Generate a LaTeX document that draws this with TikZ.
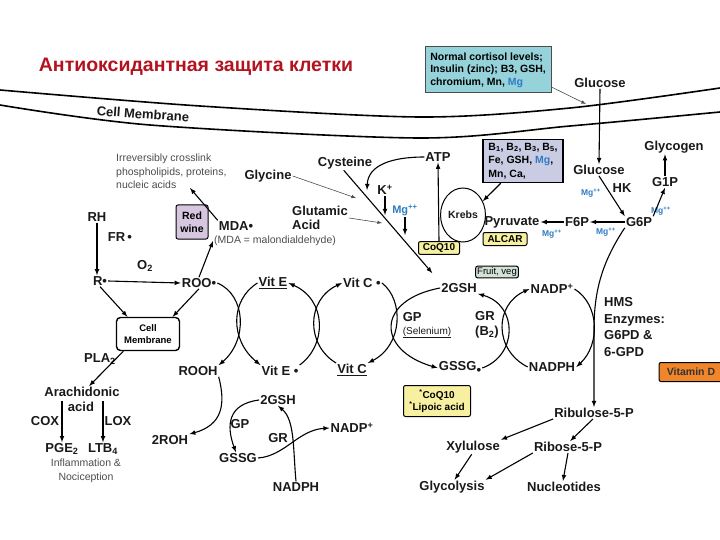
\documentclass[tikz,border=0pt]{standalone}
\usepackage{fontspec}
\setmainfont{Liberation Sans}
\usepackage{tikz}
\usetikzlibrary{arrows,shapes.geometric}

\definecolor{titlered}{HTML}{B3121E}
\definecolor{mgblue}{HTML}{2F7BC4}
\definecolor{cortfill}{HTML}{96D2DA}
\definecolor{bfill}{HTML}{C9CCE2}
\definecolor{winefill}{HTML}{D6C6E0}
\definecolor{yellowfill}{HTML}{F6F0A0}
\definecolor{vegfill}{HTML}{D3E2D6}
\definecolor{vitdfill}{HTML}{F0852A}

\newcommand{\mgpp}{Mg\textsuperscript{++}}

\begin{document}
\begin{tikzpicture}[x=1pt,y=-1pt]

\tikzstyle{lbl}=[font=\bfseries\fontsize{13}{14.5}\selectfont,text=black!90,inner sep=1pt]
\tikzstyle{sml}=[font=\fontsize{10.5}{13.5}\selectfont,text=black!70,inner sep=1pt]
\tikzstyle{mg}=[font=\bfseries\fontsize{8.5}{9}\selectfont,text=mgblue,inner sep=1pt]
\tikzstyle{con}=[-latex,line width=1.1pt]
\tikzstyle{fine}=[-latex,line width=.6pt,black!70]
\tikzstyle{ybox}=[draw,line width=1pt,rounded corners=2pt,fill=yellowfill,font=\bfseries\fontsize{10}{12}\selectfont,inner sep=2pt]
\tikzstyle{mem}=[line width=1.6pt]

\useasboundingbox (0,0) rectangle (720,540);

\draw[mem] plot[smooth] coordinates {(0,90) (200,106) (420,117) (570,108) (720,88)};
\draw[mem] plot[smooth] coordinates {(0,105) (150,125) (420,138) (570,126) (720,112)};

\node[font=\bfseries\fontsize{19.5}{21}\selectfont,text=titlered] (title) at (196,67) {Антиоксидантная защита клетки};
\node[lbl,rotate=-4] (cellmem) at (143,114) {Cell Membrane};

\node[draw=black!70,line width=1pt,fill=cortfill,align=left,font=\bfseries\fontsize{10.5}{12.5}\selectfont,inner sep=3pt,minimum width=126,minimum height=46] (cortbox) at (488,70) {Normal cortisol levels;\\Insulin (zinc); B3, GSH,\\chromium, Mn, {\color{mgblue}Mg}};
\node[lbl] (glucA) at (600,83) {Glucose};
\coordinate (gate) at (586,104);

\node[sml,align=left,anchor=north west] (irrev) at (115,153) {Irreversibly crosslink\\phospholipids, proteins,\\nucleic acids};
\coordinate (nuc) at (190,188);
\node[lbl] (glycine) at (268,176) {Glycine};
\node[lbl] (cysteine) at (345,163) {Cysteine};
\node[lbl] (atp) at (438,157) {ATP};
\node[draw,line width=1.3pt,fill=bfill,align=left,font=\bfseries\fontsize{10.5}{13.5}\selectfont,inner sep=3pt,minimum width=80,minimum height=43] (bbox) at (523,161) {B\textsubscript{1}, B\textsubscript{2}, B\textsubscript{3}, B\textsubscript{5},\\Fe, GSH, {\color{mgblue}Mg},\\Mn, Ca,};
\node[lbl] (glycogen) at (674,147) {Glycogen};
\node[lbl] (glucB) at (599,170) {Glucose};
\node[lbl] (hk) at (622,188) {HK};
\node[mg] (mgA) at (591,193) {\mgpp};
\node[lbl] (g1p) at (665,182) {G1P};
\node[mg] (mgB) at (661,211) {\mgpp};
\node[lbl] (g6p) at (639,222) {G6P};
\node[lbl] (f6p) at (577,222) {F6P};
\node[lbl] (pyruvate) at (512,222) {Pyruvate};
\node[mg] (mgC) at (552,234) {\mgpp};
\node[mg] (mgD) at (606,232) {\mgpp};
\node[ybox,minimum width=44,minimum height=13] (alcar) at (505,239) {ALCAR};
\node[draw,ellipse,line width=1pt,minimum width=40,minimum height=54,lbl,font=\bfseries\fontsize{10.5}{12}\selectfont] (krebs) at (463,215) {Krebs};
\node[ybox,minimum width=41,minimum height=12] (coq) at (439,248) {CoQ10};
\node[lbl] (kplus) at (385,190) {K\textsuperscript{+}};
\coordinate (kend) at (385,215);
\node[lbl,text=mgblue,font=\bfseries\fontsize{11}{12}\selectfont] (mgE) at (405,210) {\mgpp};
\coordinate (mgend) at (405,235);
\node[lbl,align=left,anchor=west] (glutamic) at (291,218) {Glutamic\\Acid};
\node[sml,anchor=west] (mdadef) at (213,241) {(MDA = malondialdehyde)};
\node[lbl] (mda) at (236,226) {MDA\textbullet};
\node[draw,line width=1pt,rounded corners=2pt,fill=winefill,align=center,font=\bfseries\fontsize{10.5}{13}\selectfont,inner sep=2pt,minimum width=32,minimum height=34] (redwine) at (192,222) {Red\\wine};
\coordinate (jgly) at (356,198);
\coordinate (jatp) at (367,190);
\coordinate (jglu) at (382,223);

\node[lbl] (rh) at (97,217) {RH};
\node[lbl] (fr) at (120,237) {FR\,\textbullet};
\node[lbl] (r) at (100,281) {R\textbullet};
\node[lbl] (otwo) at (145,266) {O\textsubscript{2}};
\node[lbl] (roo) at (199,283) {ROO\textbullet};
\node[lbl] (vitEa) at (273,283) {\underline{Vit E}};
\node[lbl] (vitCa) at (362,283) {Vit C \textbullet};
\node[draw,line width=1pt,rounded corners=2pt,fill=vegfill,font=\fontsize{9.5}{11}\selectfont,inner sep=1.5pt] (fruit) at (497,272) {Fruit, veg};
\node[lbl] (gshA) at (459,288) {2GSH};
\node[lbl] (nadpA) at (552,289) {NADP\textsuperscript{+}};
\node[lbl,align=left,anchor=west,font=\bfseries\fontsize{13}{16.8}\selectfont] (hms) at (603,327) {HMS\\Enzymes:\\G6PD \&\\6-GPD};

\node[draw,line width=1.4pt,rounded corners=4pt,align=center,font=\bfseries\fontsize{9.5}{12}\selectfont,inner sep=2pt,minimum width=63,minimum height=33] (cellbox) at (148,334) {Cell\\Membrane};
\node[lbl,align=left,font=\bfseries\fontsize{13}{14}\selectfont] (gp) at (427,325) {GP\\[-1pt]{\fontsize{10}{11}\selectfont\mdseries\underline{(Selenium)}}};
\node[lbl,align=left] (gr) at (487,325) {GR\\(B\textsubscript{2})};

\node[lbl] (pla) at (100,359) {PLA\textsubscript{2}};
\node[lbl] (rooh) at (198,371) {ROOH};
\node[lbl] (vitEb) at (280,371) {Vit E \textbullet};
\node[lbl] (vitCb) at (352,370) {\underline{Vit C}};
\node[lbl] (gssgA) at (460,368) {GSSG\raisebox{-.6ex}{\textbullet}};
\node[lbl] (nadphA) at (552,367) {NADPH};
\node[draw,line width=1pt,rounded corners=2pt,fill=vitdfill,font=\bfseries\fontsize{10.5}{12}\selectfont,text=black!80,inner sep=2pt,minimum width=64,minimum height=19] (vitd) at (691,372) {Vitamin D};
\node[ybox,align=center,minimum width=67,minimum height=31] (coqlip) at (437,401) {\textsuperscript{*}CoQ10\\\textsuperscript{*}Lipoic acid};

\node[lbl] (arach) at (82,392) {Arachidonic};
\node[lbl] (acid) at (81,407) {acid};
\node[lbl] (cox) at (45,421) {COX};
\node[lbl] (lox) at (118,421) {LOX};
\node[lbl] (pge) at (62,449) {PGE\textsubscript{2}};
\node[lbl] (ltb) at (103,449) {LTB\textsubscript{4}};
\node[sml,align=center] (inflam) at (86,471) {Inflammation \&\\Nociception};

\node[lbl] (gshB) at (278,400) {2GSH};
\node[lbl] (gpB) at (240,424) {GP};
\node[lbl] (rohB) at (170,440) {2ROH};
\node[lbl] (grB) at (278,438) {GR};
\node[lbl] (nadpB) at (352,428) {NADP\textsuperscript{+}};
\node[lbl] (gssgB) at (238,458) {GSSG};
\node[lbl] (nadphB) at (296,487) {NADPH};

\node[lbl] (ribulose) at (594,413) {Ribulose-5-P};
\node[lbl] (xylulose) at (473,447) {Xylulose};
\node[lbl] (ribose) at (568,447) {Ribose-5-P};
\node[lbl] (glycolysis) at (452,487) {Glycolysis};
\node[lbl] (nucleotides) at (564,487) {Nucleotides};

\draw[con] (glucA.south) -- (glucB.north);
\draw[fine] (cortbox.-15) -- (gate);
\draw[con] (glucB.south) -- (g6p.north west);
\draw[con] (g6p.north east) -- (g1p.south);
\draw[con] (g1p.north) -- (glycogen.south -| g1p.north);
\draw[con] (g6p.west) -- (f6p.east);
\draw[con] (f6p.west) -- (pyruvate.east);
\draw[con] (bbox.225) -- (krebs.35);
\draw[con] (coq.north) -- (atp.south);
\draw[con] (atp.west) .. controls (392,157) and (368,165) .. (jatp);
\draw[con,shorten >=12pt] (cysteine.260) -- (gshA.north west);
\draw[fine] (glycine.east) -- (jgly);
\draw[fine] (glutamic.east) -- (jglu);
\draw[con] (kplus.south) -- (kend);
\draw[con] (mgE.south) -- (mgend);

\draw[con] (rh.south) -- (rh.south |- r.north);
\draw[con] (r.east) -- (roo.west);
\draw[con] (r.south) -- (cellbox.140);
\draw[con] (roo.south) -- (cellbox.35);
\draw[con] (roo.north) -- (mdadef.west);
\draw[con] (mda.north west) -- (nuc);
\draw[con] (cellbox.215) -- (arach.40);
\draw[con] (pge.north |- acid.north) -- (pge.north);
\draw[con] (ltb.north |- acid.north) -- (ltb.north);

\draw[con] (roo.east) .. controls (246,295) and (248,340) .. (rooh.north east);
\draw[con] (vitEa.west) .. controls (230,300) and (230,340) .. (vitEb.north west);
\draw[con] (vitEb.north east) .. controls (327,345) and (327,300) .. (vitEa.east);
\draw[con] (vitCb.north west) .. controls (306,345) and (306,300) .. (vitCa.west);
\draw[con] (vitCa.east) .. controls (404,300) and (403,345) .. (vitCb.north east);
\draw[con] (gshA.west) .. controls (376,300) and (376,350) .. (gssgA.west);
\draw[con] (gssgA.east) .. controls (518,355) and (518,305) .. (gshA.south east);
\draw[con] (nadphA.west) .. controls (494,350) and (494,305) .. (nadpA.west);
\draw[con] (nadpA.east) .. controls (600,305) and (600,345) .. (nadphA.east);
\draw[con] (g6p.south west) .. controls (600,265) and (594,295) .. (594,330) -- (ribulose.north);

\draw[con] (rooh.south east) .. controls (226,405) and (222,425) .. (rohB.north east);
\draw[con] (gshB.west) .. controls (228,404) and (226,425) .. (gssgB.110);
\draw[con] (gssgB.east) .. controls (285,456) and (298,430) .. (nadpB.west);
\draw[con] (nadphB.north) .. controls (293,450) and (295,420) .. (gshB.south);

\draw[con] (ribulose.south west) -- (xylulose.north east);
\draw[con] (ribulose.260) -- (ribose.70);
\draw[con] (xylulose.260) -- (glycolysis.70);
\draw[con] (ribose.south west) -- (glycolysis.north east);
\draw[con] (ribose.south) -- (nucleotides.100);

\end{tikzpicture}
\end{document}
